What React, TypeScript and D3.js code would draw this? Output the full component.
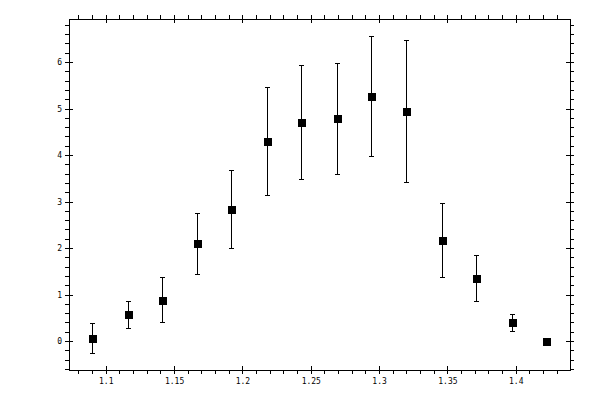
import React, { useRef, useEffect } from 'react';
import * as d3 from 'd3';

// measured points: x, y and symmetric error
const xValues = [1.090, 1.116, 1.141, 1.167, 1.192, 1.218, 1.243, 1.269, 1.294, 1.320, 1.346, 1.371, 1.397, 1.422];
const yValues = [0.06, 0.57, 0.89, 2.10, 2.83, 4.30, 4.71, 4.79, 5.27, 4.94, 2.17, 1.35, 0.40, 0.01];
const yErrors = [0.32, 0.29, 0.48, 0.66, 0.84, 1.17, 1.23, 1.20, 1.30, 1.53, 0.80, 0.50, 0.19, 0.0];

const xMajorTicks = [1.1, 1.15, 1.2, 1.25, 1.3, 1.35, 1.4];
const xTickLabels = ['1.1', '1.15', '1.2', '1.25', '1.3', '1.35', '1.4'];
const yMajorTicks = [0, 1, 2, 3, 4, 5, 6];
const yTickLabels = ['0', '1', '2', '3', '4', '5', '6'];

const xDomain = [1.0731, 1.4397];
const yDomain = [-0.624, 6.926];

const width = 600;
const height = 400;
const margin = { top: 19, right: 30, bottom: 30, left: 69 };

const App: React.FC = () => {
  const svgRef = useRef<SVGSVGElement | null>(null);

  useEffect(() => {
    if (!svgRef.current) return;
    const svg = d3.select(svgRef.current);
    svg.selectAll('*').remove();

    const x = d3.scaleLinear().domain(xDomain).range([margin.left, width - margin.right]);
    const y = d3.scaleLinear().domain(yDomain).range([height - margin.bottom, margin.top]);

    const xMinor = d3.range(108, 144).map(v => v / 100).filter(v => v >= xDomain[0] && v <= xDomain[1]);
    const yMinor = d3.range(-3, 35).map(v => v / 5).filter(v => v >= yDomain[0] && v <= yDomain[1]);

    const fmtX = (d: d3.NumberValue) => xTickLabels[xMajorTicks.indexOf(+d)] ?? '';
    const fmtY = (d: d3.NumberValue) => yTickLabels[yMajorTicks.indexOf(+d)] ?? '';

    const bottom = height - margin.bottom;
    const right = width - margin.right;

    const addAxis = (axis: d3.Axis<d3.NumberValue>, tx: number, ty: number) => {
      const g = svg.append('g')
        .attr('transform', `translate(${tx},${ty})`)
        .call(axis);
      g.select('.domain').remove();
      g.selectAll('line').attr('stroke', '#000').attr('shape-rendering', 'crispEdges');
      g.selectAll('text')
        .attr('fill', '#000')
        .style('font-family', '"DejaVu Sans Mono", monospace')
        .style('font-size', '8px');
      return g;
    };

    // minor ticks, outward
    addAxis(d3.axisBottom(x).tickValues(xMinor).tickSize(4).tickFormat(() => ''), 0, bottom);
    addAxis(d3.axisTop(x).tickValues(xMinor).tickSize(4).tickFormat(() => ''), 0, margin.top);
    addAxis(d3.axisLeft(y).tickValues(yMinor).tickSize(4).tickFormat(() => ''), margin.left, 0);
    addAxis(d3.axisRight(y).tickValues(yMinor).tickSize(4).tickFormat(() => ''), right, 0);

    // major ticks, crossing the frame
    addAxis(d3.axisBottom(x).tickValues(xMajorTicks).tickSize(4).tickPadding(4).tickFormat(fmtX), 0, bottom);
    addAxis(d3.axisBottom(x).tickValues(xMajorTicks).tickSize(-4).tickFormat(() => ''), 0, bottom);
    addAxis(d3.axisTop(x).tickValues(xMajorTicks).tickSize(4).tickFormat(() => ''), 0, margin.top);
    addAxis(d3.axisTop(x).tickValues(xMajorTicks).tickSize(-4).tickFormat(() => ''), 0, margin.top);
    addAxis(d3.axisLeft(y).tickValues(yMajorTicks).tickSize(4).tickPadding(3).tickFormat(fmtY), margin.left, 0);
    addAxis(d3.axisLeft(y).tickValues(yMajorTicks).tickSize(-4).tickFormat(() => ''), margin.left, 0);
    addAxis(d3.axisRight(y).tickValues(yMajorTicks).tickSize(4).tickFormat(() => ''), right, 0);
    addAxis(d3.axisRight(y).tickValues(yMajorTicks).tickSize(-4).tickFormat(() => ''), right, 0);

    // frame
    svg.append('rect')
      .attr('x', margin.left)
      .attr('y', margin.top)
      .attr('width', right - margin.left)
      .attr('height', bottom - margin.top)
      .attr('fill', 'none')
      .attr('stroke', '#000')
      .attr('shape-rendering', 'crispEdges');

    const points = xValues.map((xv, i) => ({ x: xv, y: yValues[i], e: yErrors[i] }));
    const pts = svg.append('g');

    const bars = pts.selectAll('.err')
      .data(points.filter(p => p.e > 0))
      .join('g')
      .attr('class', 'err')
      .attr('stroke', '#000')
      .attr('shape-rendering', 'crispEdges');

    bars.append('line')
      .attr('x1', d => Math.round(x(d.x)) + 0.5)
      .attr('x2', d => Math.round(x(d.x)) + 0.5)
      .attr('y1', d => y(d.y - d.e))
      .attr('y2', d => y(d.y + d.e));
    bars.append('line')
      .attr('x1', d => Math.round(x(d.x)) - 2)
      .attr('x2', d => Math.round(x(d.x)) + 3)
      .attr('y1', d => Math.round(y(d.y + d.e)) + 0.5)
      .attr('y2', d => Math.round(y(d.y + d.e)) + 0.5);
    bars.append('line')
      .attr('x1', d => Math.round(x(d.x)) - 2)
      .attr('x2', d => Math.round(x(d.x)) + 3)
      .attr('y1', d => Math.round(y(d.y - d.e)) + 0.5)
      .attr('y2', d => Math.round(y(d.y - d.e)) + 0.5);

    pts.selectAll('.pt')
      .data(points)
      .join('rect')
      .attr('class', 'pt')
      .attr('x', d => Math.round(x(d.x)) - 3.5)
      .attr('y', d => Math.round(y(d.y)) - 3.5)
      .attr('width', 8)
      .attr('height', 8)
      .attr('fill', '#000')
      .attr('shape-rendering', 'crispEdges');
  }, []);

  return (
    <svg
      ref={svgRef}
      width={width}
      height={height}
      style={{ position: 'absolute', left: 0, top: 0, background: '#fff' }}
    />
  );
};

export default App;
